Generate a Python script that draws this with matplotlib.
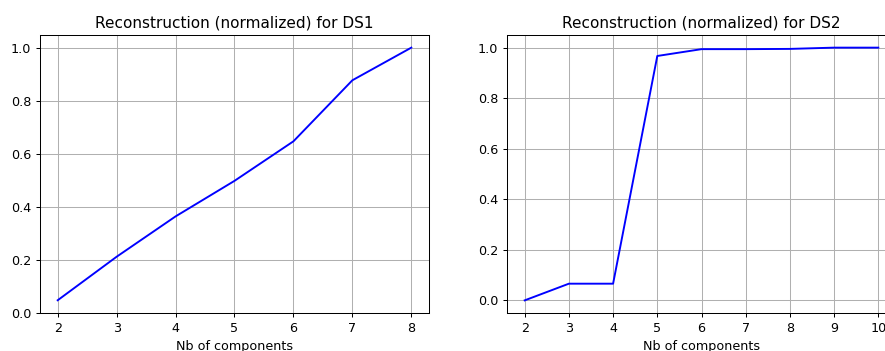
import matplotlib
matplotlib.use("Agg")
import matplotlib.pyplot as plt

# components and normalized reconstruction values
ds1_components = [2, 3, 4, 5, 6, 7, 8]
ds1_values = [0.048, 0.212, 0.364, 0.498, 0.647, 0.877, 1.0]

ds2_components = [2, 3, 4, 5, 6, 7, 8, 9, 10]
ds2_values = [0.0, 0.066, 0.066, 0.967, 0.994, 0.994, 0.995, 1.0, 1.0]

W, H = 885, 351
DPI = 91.5  # source looks like a 72 dpi notebook figure upscaled ~1.27x
fig = plt.figure(figsize=(W / DPI, H / DPI), dpi=DPI)

# axes placed in pixels; the right panel runs past the figure edge like the source crop
ax1 = fig.add_axes([40 / W, 38 / H, 389 / W, 278 / H])
ax2 = fig.add_axes([507 / W, 38 / H, 389 / W, 278 / H])

for ax, xs, ys, name in [(ax1, ds1_components, ds1_values, 'DS1'),
                         (ax2, ds2_components, ds2_values, 'DS2')]:
    ax.plot(xs, ys, color='b')
    ax.set_title(f'Reconstruction (normalized) for {name}')
    ax.set_xlabel('Nb of components')
    ax.set_xticks(xs)
    ax.grid(True)

ax1.set_ylim(bottom=0)

fig.savefig('out.png', dpi=DPI)
